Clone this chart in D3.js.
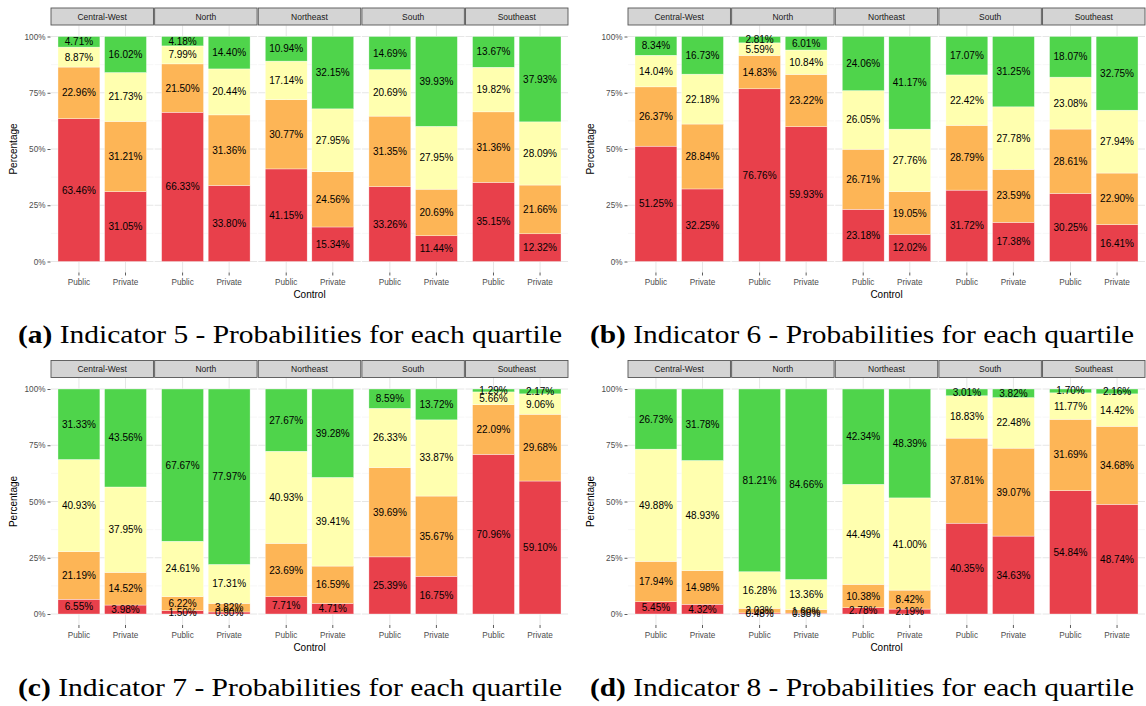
<!DOCTYPE html>
<html>
<head>
<meta charset="utf-8">
<script src="https://cdn.jsdelivr.net/npm/d3@7"></script>
<style>
  body { margin: 0; background: #fff; }
  svg { display: block; }
</style>
</head>
<body>
<svg id="chart" width="1146" height="706"></svg>
<script>
// ---- data -------------------------------------------------------------
const regions = ["Central-West", "North", "Northeast", "South", "Southeast"];
const controls = ["Public", "Private"];
const quartileColors = ["#e8404b", "#fdb556", "#ffffaf", "#4fd44b"];
const yTicks = [0, 25, 50, 75, 100];
const yMinor = [12.5, 37.5, 62.5, 87.5];

// one row per region × control (Public, Private); values stacked bottom → top
const indicator5 = [
  [63.46, 22.96, 8.87, 4.71], [31.05, 31.21, 21.73, 16.02],
  [66.33, 21.50, 7.99, 4.18], [33.80, 31.36, 20.44, 14.40],
  [41.15, 30.77, 17.14, 10.94], [15.34, 24.56, 27.95, 32.15],
  [33.26, 31.35, 20.69, 14.69], [11.44, 20.69, 27.95, 39.93],
  [35.15, 31.36, 19.82, 13.67], [12.32, 21.66, 28.09, 37.93]
];
const indicator6 = [
  [51.25, 26.37, 14.04, 8.34], [32.25, 28.84, 22.18, 16.73],
  [76.76, 14.83, 5.59, 2.81], [59.93, 23.22, 10.84, 6.01],
  [23.18, 26.71, 26.05, 24.06], [12.02, 19.05, 27.76, 41.17],
  [31.72, 28.79, 22.42, 17.07], [17.38, 23.59, 27.78, 31.25],
  [30.25, 28.61, 23.08, 18.07], [16.41, 22.90, 27.94, 32.75]
];
const indicator7 = [
  [6.55, 21.19, 40.93, 31.33], [3.98, 14.52, 37.95, 43.56],
  [1.50, 6.22, 24.61, 67.67], [0.90, 3.82, 17.31, 77.97],
  [7.71, 23.69, 40.93, 27.67], [4.71, 16.59, 39.41, 39.28],
  [25.39, 39.69, 26.33, 8.59], [16.75, 35.67, 33.87, 13.72],
  [70.96, 22.09, 5.66, 1.29], [59.10, 29.68, 9.06, 2.17]
];
const indicator8 = [
  [5.45, 17.94, 49.88, 26.73], [4.32, 14.98, 48.93, 31.78],
  [0.48, 2.03, 16.28, 81.21], [0.38, 1.60, 13.36, 84.66],
  [2.78, 10.38, 44.49, 42.34], [2.19, 8.42, 41.00, 48.39],
  [40.35, 37.81, 18.83, 3.01], [34.63, 39.07, 22.48, 3.82],
  [54.84, 31.69, 11.77, 1.70], [48.74, 34.68, 14.42, 2.16]
];

const captionTags = ["(a)", "(b)", "(c)", "(d)"];
const captionTexts = [
  "Indicator 5 - Probabilities for each quartile",
  "Indicator 6 - Probabilities for each quartile",
  "Indicator 7 - Probabilities for each quartile",
  "Indicator 8 - Probabilities for each quartile"
];

// ---- layout -----------------------------------------------------------
const panels = [
  { data: indicator5, ox: 0,   oy: 0 },
  { data: indicator6, ox: 577, oy: 0 },
  { data: indicator7, ox: 0,   oy: 352.5 },
  { data: indicator8, ox: 577, oy: 352.5 }
];

const sans = "'Liberation Sans', Arial, Helvetica, sans-serif";
const svg = d3.select("#chart");

const facetLeft = 51, facetsWidth = 517, facetGap = 1.2;
const facetW = (facetsWidth - facetGap * (regions.length - 1)) / regions.length;

panels.forEach((p, pi) => {
  const g = svg.append("g").attr("transform", `translate(${p.ox},${p.oy})`);
  const y = d3.scaleLinear().domain([0, 100]).range([261.5, 36.5]);
  const panelTop = 25.5, panelBottom = 272.5;

  // y axis
  const yAxis = g.append("g")
    .attr("transform", `translate(${facetLeft - 0.5},0)`)
    .call(d3.axisLeft(y).tickValues(yTicks).tickFormat(d => d + "%").tickSize(3).tickPadding(2));
  yAxis.select(".domain").remove();
  yAxis.selectAll("line").attr("stroke", "#333").attr("stroke-width", 0.8);
  yAxis.selectAll("text").attr("font-family", sans).attr("font-size", 8.2).attr("fill", "#4d4d4d");

  g.append("text")
    .attr("transform", `translate(17,${(panelTop + panelBottom) / 2}) rotate(-90)`)
    .attr("text-anchor", "middle")
    .attr("font-family", sans).attr("font-size", 10).attr("fill", "#000")
    .text("Percentage");

  regions.forEach((region, ri) => {
    const fx = facetLeft + ri * (facetW + facetGap);
    const x = d3.scaleBand().domain(controls).range([fx, fx + facetW])
      .paddingInner(0.1).paddingOuter(0.15);
    const fg = g.append("g");

    // grid
    fg.selectAll("line.minor").data(yMinor).join("line")
      .attr("x1", fx).attr("x2", fx + facetW)
      .attr("y1", d => y(d)).attr("y2", d => y(d))
      .attr("stroke", "#f2f2f2").attr("stroke-width", 0.6);
    fg.selectAll("line.major").data(yTicks).join("line")
      .attr("x1", fx).attr("x2", fx + facetW)
      .attr("y1", d => y(d)).attr("y2", d => y(d))
      .attr("stroke", "#e6e6e6").attr("stroke-width", 1);
    fg.selectAll("line.vgrid").data(controls).join("line")
      .attr("x1", d => x(d) + x.bandwidth() / 2).attr("x2", d => x(d) + x.bandwidth() / 2)
      .attr("y1", panelTop).attr("y2", panelBottom)
      .attr("stroke", "#e6e6e6").attr("stroke-width", 1);

    // strip
    fg.append("rect")
      .attr("x", fx).attr("y", 8).attr("width", facetW).attr("height", 17)
      .attr("fill", "#d4d4d4").attr("stroke", "#555").attr("stroke-width", 0.9);
    fg.append("text")
      .attr("x", fx + facetW / 2).attr("y", 16.8)
      .attr("text-anchor", "middle").attr("dominant-baseline", "central")
      .attr("font-family", sans).attr("font-size", 8.5).attr("fill", "#1a1a1a")
      .text(region);

    // stacked bars
    controls.forEach((ctrl, ci) => {
      const vals = p.data[ri * 2 + ci];
      let cum = 0;
      const segs = vals.map((v, qi) => {
        const s = { v, qi, y0: cum, y1: cum + v };
        cum += v;
        return s;
      });
      const bx = x(ctrl), bw = x.bandwidth();
      fg.selectAll(null).data(segs).join("rect")
        .attr("x", bx).attr("width", bw)
        .attr("y", d => y(d.y1)).attr("height", d => y(d.y0) - y(d.y1))
        .attr("fill", d => quartileColors[d.qi])
        .attr("stroke", "#fff").attr("stroke-width", 0.5).attr("stroke-opacity", 0.7);
      fg.selectAll(null).data(segs).join("text")
        .attr("x", bx + bw / 2).attr("y", d => y((d.y0 + d.y1) / 2))
        .attr("text-anchor", "middle").attr("dominant-baseline", "central")
        .attr("font-family", sans).attr("font-size", 10).attr("fill", "#000")
        .text(d => d.v.toFixed(2) + "%");
    });

    // x axis
    const xAxis = fg.append("g")
      .attr("transform", `translate(0,${panelBottom})`)
      .call(d3.axisBottom(x).tickSize(3).tickPadding(4));
    xAxis.select(".domain").remove();
    xAxis.selectAll("line").attr("stroke", "#333").attr("stroke-width", 0.8);
    xAxis.selectAll("text").attr("font-family", sans).attr("font-size", 8.2).attr("fill", "#4d4d4d");
  });

  g.append("text")
    .attr("x", facetLeft + facetsWidth / 2).attr("y", 298)
    .attr("text-anchor", "middle")
    .attr("font-family", sans).attr("font-size", 10).attr("fill", "#000")
    .text("Control");

  // caption
  const cap = g.append("text")
    .attr("x", 18 + (pi % 2) * -5).attr("y", 343)
    .attr("font-family", "'Liberation Serif', 'DejaVu Serif', serif")
    .attr("font-size", 25).attr("fill", "#000")
    .attr("textLength", 544).attr("lengthAdjust", "spacingAndGlyphs");
  cap.append("tspan").attr("font-weight", "bold").text(captionTags[pi]);
  cap.append("tspan").text(" " + captionTexts[pi]);
});
</script>
</body>
</html>
